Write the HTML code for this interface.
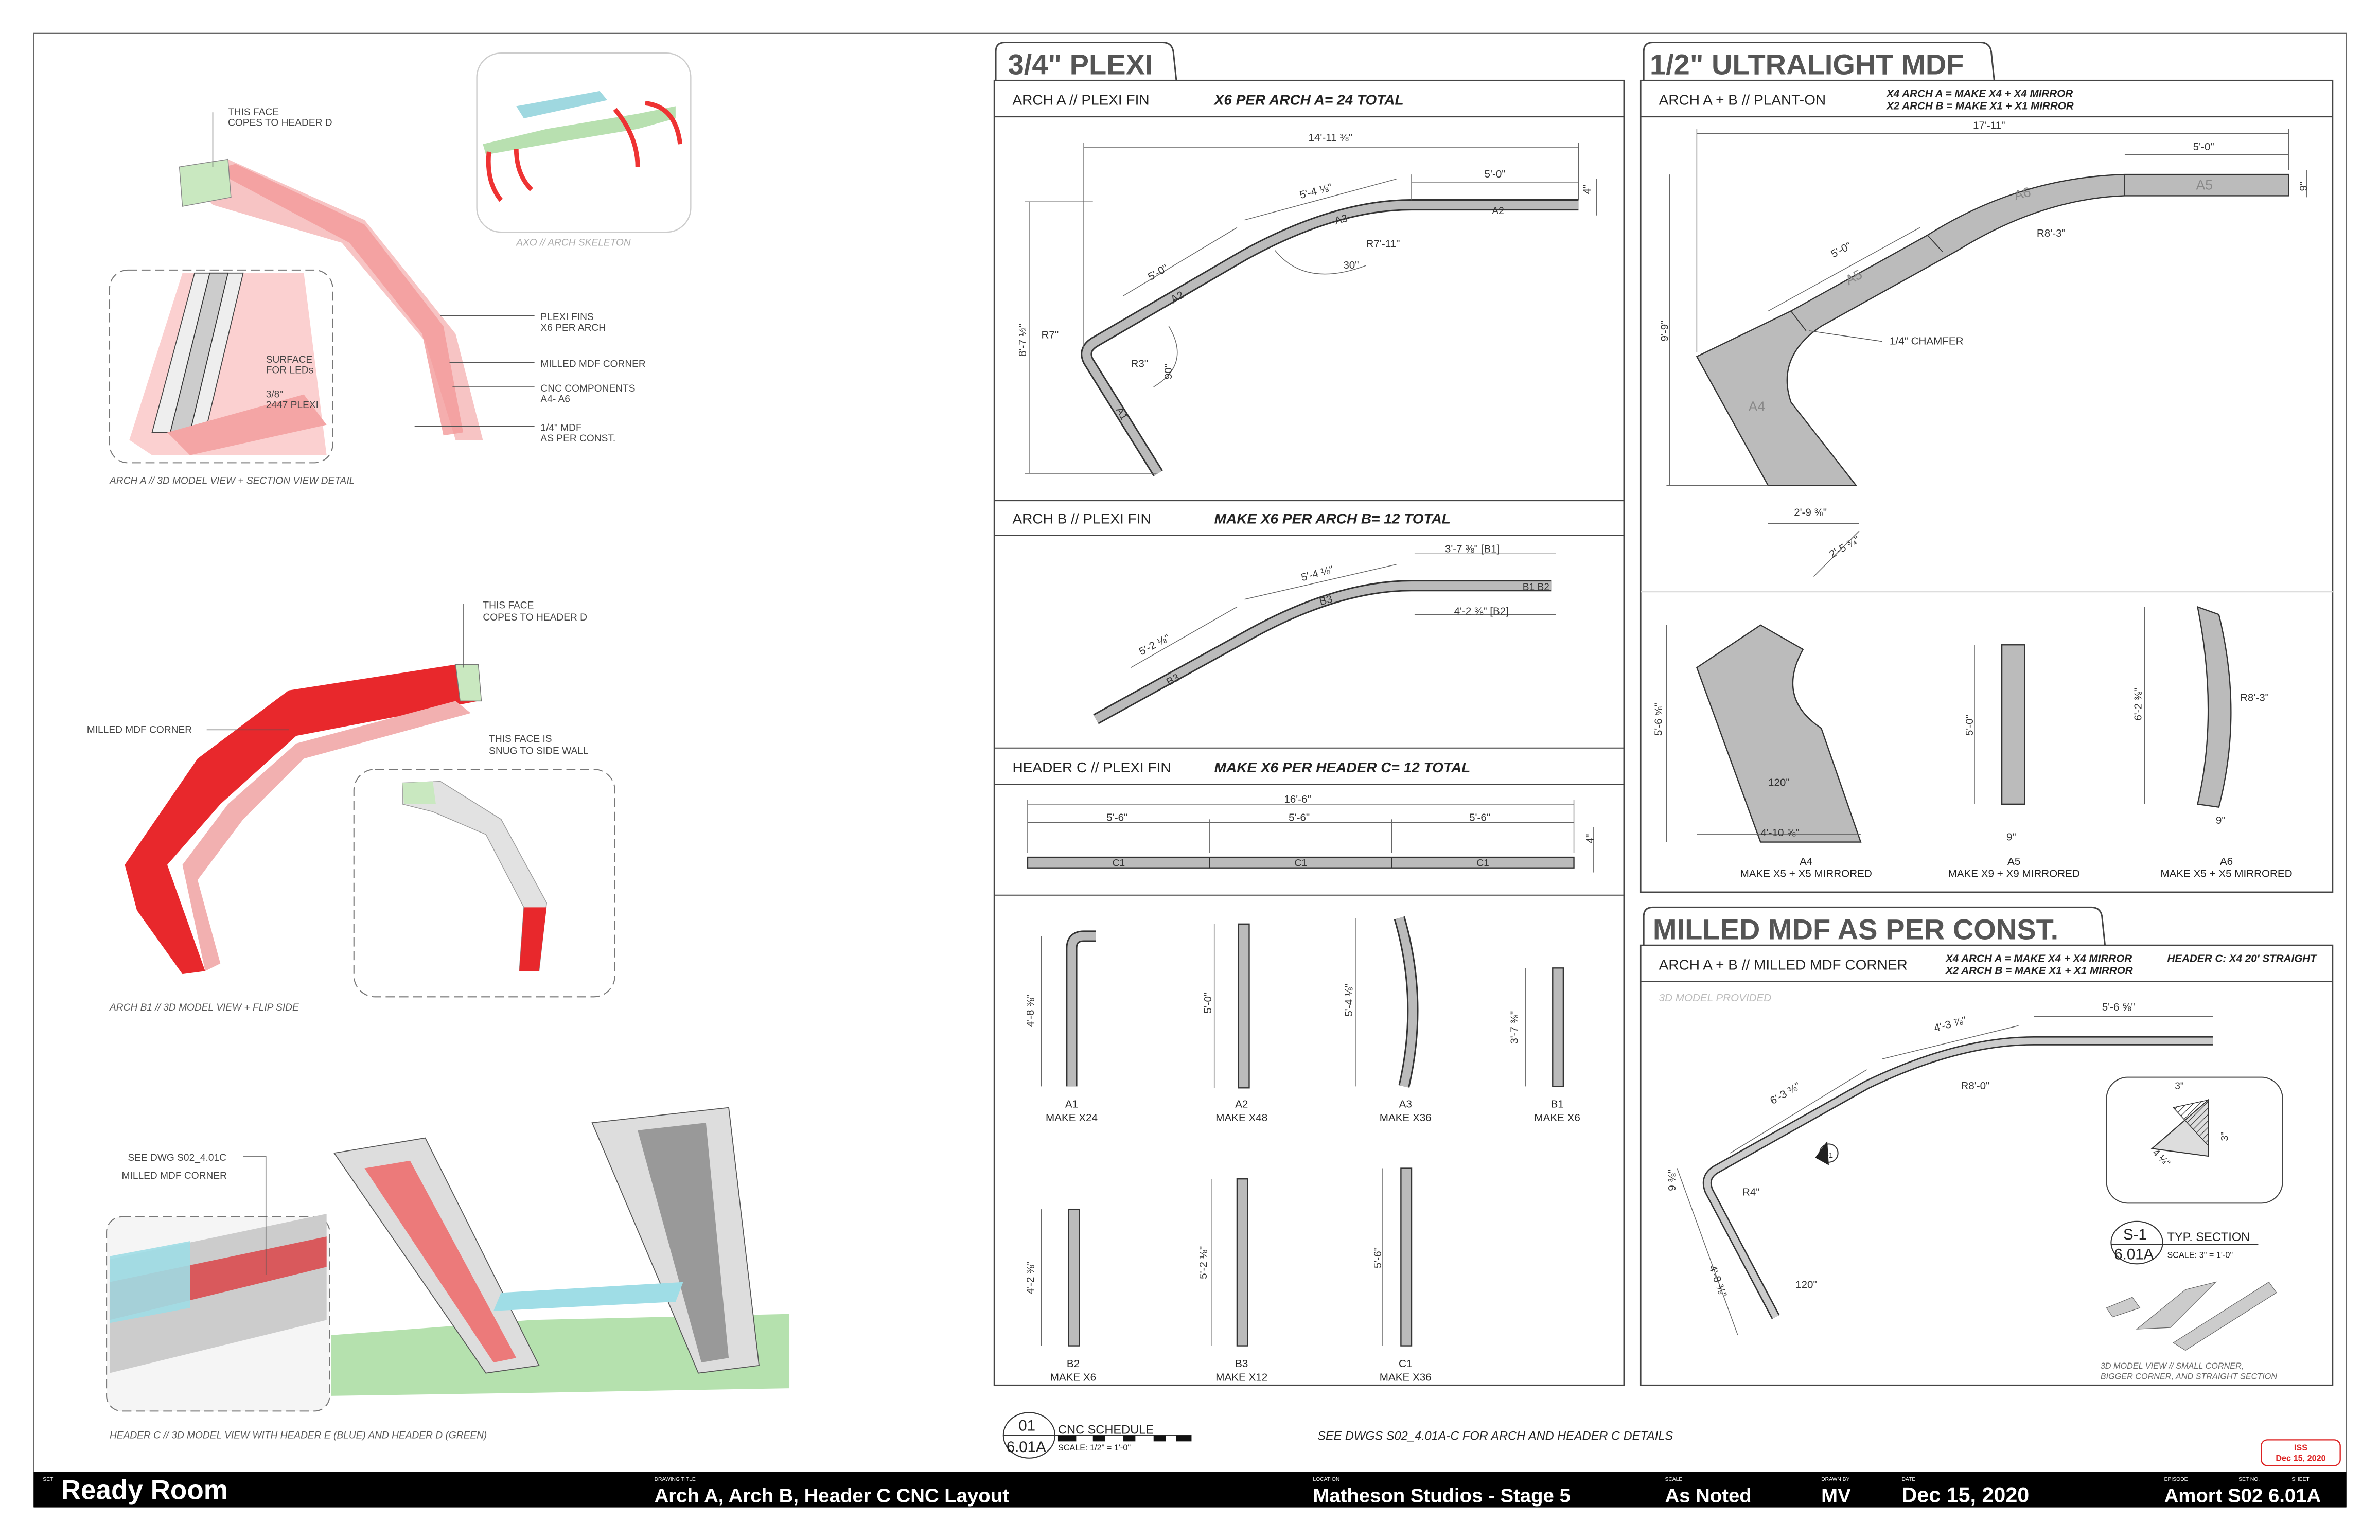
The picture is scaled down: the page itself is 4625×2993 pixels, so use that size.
<!DOCTYPE html>
<html><head><meta charset="utf-8"><style>
html,body{margin:0;padding:0;background:#fff;}
svg{display:block;}
text{font-family:"Liberation Sans",sans-serif;}
</style></head><body>
<svg width="4625" height="2993" viewBox="0 0 1568 1015" xmlns="http://www.w3.org/2000/svg">
<rect width="1568" height="1015" fill="#fff"/>
<rect x="22" y="22" width="1524" height="971" fill="none" stroke="#666" stroke-width="0.8"/>

<!-- ============ LEFT COLUMN 3D VIEWS ============ -->
<!-- Arch A top -->
<polygon points="118,110 150,105 240,145 300,220 318,290 300,290 280,225 225,160 140,135" fill="#f7c4c4"/>
<polygon points="140,112 155,108 240,148 292,215 305,285 292,287 278,220 230,160" fill="#f29a9a" opacity="0.8"/>
<polygon points="118,110 150,105 152,130 120,136" fill="#c9e8c0" stroke="#888" stroke-width="0.5"/>
<line x1="140" y1="74" x2="140" y2="110" stroke="#555" stroke-width="0.5"/>
<text x="150" y="76" font-size="6.5" fill="#444">THIS FACE</text>
<text x="150" y="83" font-size="6.5" fill="#444">COPES TO HEADER D</text>
<rect x="72" y="178" width="147" height="127" rx="12" fill="none" stroke="#777" stroke-width="0.7" stroke-dasharray="6,3"/>
<polygon points="85,290 120,180 200,180 215,300 100,300" fill="#fbd0d0"/>
<polygon points="100,285 128,180 160,180 135,285" fill="#eee" stroke="#444" stroke-width="0.6"/>
<polygon points="112,285 138,180 150,180 125,285" fill="#ccc" stroke="#333" stroke-width="0.6"/>
<polygon points="110,285 200,260 215,280 125,300" fill="#f4a5a5"/>
<text x="175" y="239" font-size="6.5" fill="#444">SURFACE</text>
<text x="175" y="246" font-size="6.5" fill="#444">FOR LEDs</text>
<text x="175" y="262" font-size="6.5" fill="#444">3/8"</text>
<text x="175" y="269" font-size="6.5" fill="#444">2447 PLEXI</text>
<g font-size="6.5" fill="#444">
<text x="356" y="211">PLEXI FINS</text><text x="356" y="218">X6 PER ARCH</text>
<text x="356" y="242">MILLED MDF CORNER</text>
<text x="356" y="258">CNC COMPONENTS</text><text x="356" y="265">A4- A6</text>
<text x="356" y="284">1/4" MDF</text><text x="356" y="291">AS PER CONST.</text>
</g>
<g stroke="#555" stroke-width="0.5">
<line x1="290" y1="208" x2="352" y2="208"/><line x1="296" y1="239" x2="352" y2="239"/>
<line x1="298" y1="255" x2="352" y2="255"/><line x1="273" y1="281" x2="352" y2="281"/>
</g>
<text x="72" y="319" font-size="6.5" font-style="italic" fill="#555">ARCH A // 3D MODEL VIEW + SECTION VIEW DETAIL</text>
<!-- axo -->
<rect x="314" y="35" width="141" height="118" rx="16" fill="none" stroke="#ccc" stroke-width="0.8"/>
<polygon points="318,95 360,85 420,75 445,70 445,78 420,85 360,95 320,102" fill="#b8e0b0"/>
<polygon points="340,70 395,60 400,66 345,78" fill="#9fd8e0"/>
<g stroke="#e33" stroke-width="3" fill="none">
<path d="M322,100 Q320,120 330,132"/><path d="M340,98 Q340,115 350,125"/>
<path d="M425,68 Q445,70 448,95"/><path d="M405,72 Q420,90 420,110"/>
</g>
<text x="340" y="162" font-size="6.5" font-style="italic" fill="#aaa">AXO // ARCH SKELETON</text>

<!-- Arch B1 -->
<polygon points="82,570 130,500 190,455 300,438 315,462 195,485 145,530 110,570 135,640 120,642 90,600" fill="#e8282c"/>
<polygon points="120,570 150,530 195,490 300,462 310,470 200,500 160,540 130,580 145,635 135,640" fill="#f2b0b0"/>
<polygon points="300,438 315,438 317,462 303,462" fill="#c9e8c0" stroke="#777" stroke-width="0.5"/>
<line x1="305" y1="398" x2="305" y2="440" stroke="#555" stroke-width="0.5"/>
<text x="318" y="401" font-size="6.5" fill="#444">THIS FACE</text>
<text x="318" y="409" font-size="6.5" fill="#444">COPES TO HEADER D</text>
<text x="57" y="483" font-size="6.5" fill="#444">MILLED MDF CORNER</text>
<line x1="136" y1="481" x2="190" y2="481" stroke="#555" stroke-width="0.5"/>
<rect x="233" y="507" width="172" height="150" rx="14" fill="none" stroke="#777" stroke-width="0.7" stroke-dasharray="6,3"/>
<polygon points="265,516 290,515 330,540 360,595 355,640 342,640 345,598 320,550 285,535 265,530" fill="#e2e2e2" stroke="#999" stroke-width="0.5"/>
<polygon points="345,598 360,598 355,640 342,640" fill="#e8282c"/>
<polygon points="265,516 285,515 287,530 266,530" fill="#c9e8c0"/>
<text x="322" y="489" font-size="6.5" fill="#444">THIS FACE IS</text>
<text x="322" y="497" font-size="6.5" fill="#444">SNUG TO SIDE WALL</text>
<text x="72" y="666" font-size="6.5" font-style="italic" fill="#555">ARCH B1 // 3D MODEL VIEW + FLIP SIDE</text>

<!-- Header C -->
<polygon points="218,880 350,870 520,866 520,915 350,918 218,920" fill="#a8dca0" opacity="0.85"/>
<polygon points="220,760 280,750 355,900 320,905" fill="#ddd" stroke="#555" stroke-width="0.6"/>
<polygon points="240,770 270,765 340,895 325,898" fill="#ec7a7a"/>
<polygon points="390,740 480,730 500,900 460,905" fill="#ddd" stroke="#555" stroke-width="0.6"/>
<polygon points="420,745 465,740 480,895 462,898" fill="#999"/>
<polygon points="330,852 450,845 445,858 325,864" fill="#9fdde6"/>
<rect x="70" y="802" width="147" height="128" rx="10" fill="#f5f5f5" stroke="#777" stroke-width="0.7" stroke-dasharray="6,3"/>
<polygon points="72,830 215,800 215,870 72,905" fill="#ccc"/>
<polygon points="72,845 215,815 215,835 72,870" fill="#d9595c"/>
<polygon points="72,828 125,818 125,862 72,872" fill="#9fdde6" opacity="0.9"/>
<text x="84" y="765" font-size="6.5" fill="#444">SEE DWG S02_4.01C</text>
<text x="80" y="777" font-size="6.5" fill="#444">MILLED MDF CORNER</text>
<polyline points="160,762 175,762 175,840" fill="none" stroke="#555" stroke-width="0.5"/>
<text x="72" y="948" font-size="6.5" font-style="italic" fill="#555">HEADER C // 3D MODEL VIEW WITH HEADER E (BLUE) AND HEADER D (GREEN)</text>

<!-- ============ MIDDLE PANEL ============ -->
<path d="M656,53 L656,34 Q656,28 662,28 L766,28 Q772,28 773,34 L775,53" fill="none" stroke="#444" stroke-width="1"/>
<text x="664" y="49" font-size="19" font-weight="bold" fill="#555">3/4" PLEXI</text>
<rect x="655" y="53" width="415" height="860" fill="none" stroke="#444" stroke-width="0.9"/>
<line x1="655" y1="77" x2="1070" y2="77" stroke="#444" stroke-width="0.7"/>
<text x="667" y="69" font-size="9.5" fill="#222">ARCH A // PLEXI FIN</text>
<text x="800" y="69" font-size="9.5" font-weight="bold" font-style="italic" fill="#222">X6 PER ARCH A= 24 TOTAL</text>
<line x1="655" y1="330" x2="1070" y2="330" stroke="#444" stroke-width="0.7"/>
<line x1="655" y1="353" x2="1070" y2="353" stroke="#444" stroke-width="0.7"/>
<text x="667" y="345" font-size="9.5" fill="#222">ARCH B // PLEXI FIN</text>
<text x="800" y="345" font-size="9.5" font-weight="bold" font-style="italic" fill="#222">MAKE X6 PER ARCH B= 12 TOTAL</text>
<line x1="655" y1="493" x2="1070" y2="493" stroke="#444" stroke-width="0.7"/>
<line x1="655" y1="517" x2="1070" y2="517" stroke="#444" stroke-width="0.7"/>
<text x="667" y="509" font-size="9.5" fill="#222">HEADER C // PLEXI FIN</text>
<text x="800" y="509" font-size="9.5" font-weight="bold" font-style="italic" fill="#222">MAKE X6 PER HEADER C= 12 TOTAL</text>
<line x1="655" y1="590" x2="1070" y2="590" stroke="#444" stroke-width="0.7"/>

<g fill="none" stroke-linejoin="round">
<!-- arch A -->
<path d="M763,312 L717,238 Q713,230 722,225 L820,168 Q880,135 930,135 L1040,135" stroke="#333" stroke-width="7.5"/>
<path d="M763,312 L717,238 Q713,230 722,225 L820,168 Q880,135 930,135 L1040,135" stroke="#bbb" stroke-width="5.5"/>
<!-- arch B -->
<path d="M722,474 L820,420 Q880,386 930,386 L1022,386" stroke="#333" stroke-width="7.5"/>
<path d="M722,474 L820,420 Q880,386 930,386 L1022,386" stroke="#bbb" stroke-width="5.5"/>
</g>
<rect x="677" y="565" width="360" height="7" fill="#bbb" stroke="#333" stroke-width="0.8"/>
<g stroke="#333" stroke-width="0.6"><line x1="797" y1="565" x2="797" y2="572"/><line x1="917" y1="565" x2="917" y2="572"/></g>
<g font-size="6.5" fill="#333" text-anchor="middle">
<text x="737" y="571">C1</text><text x="857" y="571">C1</text><text x="977" y="571">C1</text>
<text x="987" y="141">A2</text><text x="1012" y="389">B1 B2</text>
</g>
<!-- dimension lines -->
<g stroke="#666" stroke-width="0.5" fill="none">
<line x1="714" y1="97" x2="1040" y2="97"/><line x1="714" y1="94" x2="714" y2="230"/><line x1="1040" y1="94" x2="1040" y2="132"/>
<line x1="930" y1="120" x2="1040" y2="120"/><line x1="930" y1="115" x2="930" y2="132"/>
<line x1="678" y1="133" x2="678" y2="312"/><line x1="675" y1="133" x2="720" y2="133"/><line x1="675" y1="312" x2="762" y2="312"/>
<line x1="1052" y1="118" x2="1052" y2="142"/>
<line x1="740" y1="195" x2="815" y2="150"/><line x1="820" y1="145" x2="920" y2="118"/>
<path d="M840,165 Q860,190 900,175"/><path d="M760,255 Q785,240 770,215"/>
<line x1="932" y1="365" x2="1025" y2="365"/><line x1="932" y1="405" x2="1025" y2="405"/>
<line x1="745" y1="440" x2="815" y2="400"/><line x1="820" y1="395" x2="920" y2="372"/>
<line x1="677" y1="530" x2="1037" y2="530"/><line x1="677" y1="542" x2="1037" y2="542"/>
<line x1="677" y1="527" x2="677" y2="562"/><line x1="797" y1="540" x2="797" y2="562"/><line x1="917" y1="540" x2="917" y2="562"/><line x1="1037" y1="527" x2="1037" y2="562"/>
<line x1="1050" y1="545" x2="1050" y2="575"/>
</g>
<g font-size="7" fill="#333">
<text x="862" y="93">14'-11 ⅜"</text><text x="978" y="117">5'-0"</text><text x="1048" y="128" transform="rotate(-90 1048 128)">4"</text>
<text x="857" y="131" transform="rotate(-15 857 131)">5'-4 ⅛"</text><text x="758" y="185" transform="rotate(-30 758 185)">5'-0"</text>
<text x="900" y="163">R7'-11"</text><text x="885" y="177">30"</text><text x="686" y="223">R7"</text><text x="745" y="242">R3"</text>
<text x="676" y="235" transform="rotate(-90 676 235)">8'-7 ½"</text><text x="772" y="250" transform="rotate(-90 772 250)">90"</text>
<text x="773" y="200" transform="rotate(-30 773 200)">A2</text><text x="880" y="148" transform="rotate(-15 880 148)">A3</text><text x="735" y="270" transform="rotate(60 735 270)">A1</text>
<text x="952" y="364">3'-7 ⅜" [B1]</text><text x="958" y="405">4'-2 ⅜" [B2]</text>
<text x="858" y="383" transform="rotate(-15 858 383)">5'-4 ⅛"</text><text x="752" y="432" transform="rotate(-28 752 432)">5'-2 ⅛"</text>
<text x="870" y="399" transform="rotate(-15 870 399)">B3</text><text x="770" y="452" transform="rotate(-28 770 452)">B3</text>
<text x="846" y="529">16'-6"</text><text x="729" y="541">5'-6"</text><text x="849" y="541">5'-6"</text><text x="968" y="541">5'-6"</text>
<text x="1050" y="556" transform="rotate(-90 1050 556)">4"</text>
</g>
<!-- schedule pieces -->
<path d="M706,716 L706,625 Q706,617 714,617 L722,617" fill="none" stroke="#333" stroke-width="7.5"/>
<path d="M706,716 L706,625 Q706,617 714,617 L722,617" fill="none" stroke="#bbb" stroke-width="5.5"/>
<rect x="816" y="609" width="7" height="108" fill="#bbb" stroke="#333" stroke-width="0.8"/>
<path d="M922,605 Q938,660 925,716" fill="none" stroke="#333" stroke-width="7.5"/>
<path d="M922,605 Q938,660 925,716" fill="none" stroke="#bbb" stroke-width="5.5"/>
<rect x="1023" y="638" width="7" height="78" fill="#bbb" stroke="#333" stroke-width="0.8"/>
<rect x="704" y="797" width="7" height="90" fill="#bbb" stroke="#333" stroke-width="0.8"/>
<rect x="815" y="777" width="7" height="110" fill="#bbb" stroke="#333" stroke-width="0.8"/>
<rect x="923" y="770" width="7" height="117" fill="#bbb" stroke="#333" stroke-width="0.8"/>
<g stroke="#666" stroke-width="0.5">
<line x1="686" y1="617" x2="686" y2="716"/><line x1="800" y1="609" x2="800" y2="717"/><line x1="893" y1="605" x2="893" y2="716"/><line x1="1005" y1="638" x2="1005" y2="716"/>
<line x1="686" y1="797" x2="686" y2="887"/><line x1="798" y1="777" x2="798" y2="887"/><line x1="911" y1="770" x2="911" y2="887"/>
</g>
<g font-size="7" fill="#333">
<text x="681" y="677" transform="rotate(-90 681 677)">4'-8 ⅜"</text><text x="798" y="668" transform="rotate(-90 798 668)">5'-0"</text>
<text x="891" y="670" transform="rotate(-90 891 670)">5'-4 ⅛"</text><text x="1000" y="688" transform="rotate(-90 1000 688)">3'-7 ⅜"</text>
<text x="681" y="853" transform="rotate(-90 681 853)">4'-2 ⅜"</text><text x="795" y="843" transform="rotate(-90 795 843)">5'-2 ⅛"</text>
<text x="910" y="836" transform="rotate(-90 910 836)">5'-6"</text>
</g>
<g font-size="7" fill="#222" text-anchor="middle">
<text x="706" y="730">A1</text><text x="706" y="739">MAKE X24</text>
<text x="818" y="730">A2</text><text x="818" y="739">MAKE X48</text>
<text x="926" y="730">A3</text><text x="926" y="739">MAKE X36</text>
<text x="1026" y="730">B1</text><text x="1026" y="739">MAKE X6</text>
<text x="707" y="901">B2</text><text x="707" y="910">MAKE X6</text>
<text x="818" y="901">B3</text><text x="818" y="910">MAKE X12</text>
<text x="926" y="901">C1</text><text x="926" y="910">MAKE X36</text>
</g>
<!-- schedule tag -->
<ellipse cx="678" cy="946" rx="17" ry="15" fill="none" stroke="#333" stroke-width="0.7"/>
<line x1="661" y1="946" x2="785" y2="946" stroke="#333" stroke-width="0.7"/>
<text x="671" y="943" font-size="10" fill="#222">01</text>
<text x="663" y="957" font-size="10" fill="#222">6.01A</text>
<text x="697" y="945" font-size="8" fill="#222">CNC SCHEDULE</text>
<text x="697" y="956" font-size="5.5" fill="#222">SCALE: 1/2" = 1'-0"</text>
<g fill="#111"><rect x="697" y="946" width="12" height="4"/><rect x="720" y="946" width="8" height="4"/><rect x="740" y="946" width="8" height="4"/><rect x="760" y="946" width="8" height="4"/><rect x="775" y="946" width="10" height="4"/></g>
<text x="868" y="949" font-size="8" font-style="italic" fill="#222">SEE DWGS S02_4.01A-C FOR ARCH AND HEADER C DETAILS</text>

<!-- ============ RIGHT PANEL TOP ============ -->
<path d="M1083,53 L1083,34 Q1083,28 1089,28 L1305,28 Q1311,28 1312,34 L1314,53" fill="none" stroke="#444" stroke-width="1"/>
<text x="1087" y="49" font-size="19" font-weight="bold" fill="#555">1/2" ULTRALIGHT MDF</text>
<rect x="1081" y="53" width="456" height="535" fill="none" stroke="#444" stroke-width="0.9"/>
<line x1="1081" y1="77" x2="1537" y2="77" stroke="#444" stroke-width="0.7"/>
<text x="1093" y="69" font-size="9.5" fill="#222">ARCH A + B // PLANT-ON</text>
<text x="1243" y="64" font-size="7" font-weight="bold" font-style="italic" fill="#222">X4 ARCH A = MAKE X4 + X4 MIRROR</text>
<text x="1243" y="72" font-size="7" font-weight="bold" font-style="italic" fill="#222">X2 ARCH B = MAKE X1 + X1 MIRROR</text>
<line x1="1081" y1="390" x2="1537" y2="390" stroke="#ddd" stroke-width="0.8"/>
<path d="M1118,235 L1180,205 L1270,155 Q1330,117 1400,115 L1508,115 L1508,129 L1400,129 Q1345,131 1290,165 L1200,215 Q1170,235 1180,265 L1223,320 L1165,320 L1118,235 Z" fill="#bbb" stroke="#333" stroke-width="0.8"/>
<g stroke="#333" stroke-width="0.6"><line x1="1180" y1="205" x2="1190" y2="218"/><line x1="1270" y1="155" x2="1280" y2="166"/><line x1="1400" y1="115" x2="1400" y2="129"/></g>
<g stroke="#666" stroke-width="0.5" fill="none">
<line x1="1118" y1="88" x2="1508" y2="88"/><line x1="1118" y1="85" x2="1118" y2="232"/><line x1="1508" y1="85" x2="1508" y2="112"/>
<line x1="1400" y1="102" x2="1508" y2="102"/><line x1="1520" y1="112" x2="1520" y2="130"/>
<line x1="1100" y1="115" x2="1100" y2="320"/><line x1="1098" y1="320" x2="1165" y2="320"/>
<line x1="1165" y1="345" x2="1225" y2="345"/><line x1="1195" y1="380" x2="1225" y2="350"/>
<line x1="1165" y1="205" x2="1265" y2="150"/>
</g>
<g font-size="7" fill="#333">
<text x="1300" y="85">17'-11"</text><text x="1445" y="99">5'-0"</text><text x="1520" y="126" transform="rotate(-90 1520 126)">9"</text>
<text x="1099" y="225" transform="rotate(-90 1099 225)">9'-9"</text>
<text x="1208" y="170" transform="rotate(-28 1208 170)">5'-0"</text>
<text x="1342" y="156">R8'-3"</text><text x="1245" y="227">1/4" CHAMFER</text>
<text x="1182" y="340">2'-9 ⅜"</text><text x="1207" y="368" transform="rotate(-30 1207 368)">2'-5 ¾"</text>
</g>
<g font-size="9" fill="#888"><text x="1152" y="271">A4</text><text x="1218" y="188" transform="rotate(-28 1218 188)">A5</text><text x="1328" y="132" transform="rotate(-15 1328 132)">A6</text><text x="1447" y="125">A5</text></g>
<line x1="1240" y1="225" x2="1192" y2="218" stroke="#555" stroke-width="0.5"/>
<!-- parts -->
<path d="M1118,440 L1160,412 L1188,428 Q1170,460 1200,480 L1226,555 L1160,555 Z" fill="#bbb" stroke="#333" stroke-width="0.8"/>
<rect x="1319" y="425" width="15" height="105" fill="#bbb" stroke="#333" stroke-width="0.8"/>
<path d="M1448,400 L1462,405 Q1478,470 1462,532 L1448,530 Q1462,470 1448,400 Z" fill="#bbb" stroke="#333" stroke-width="0.8"/>
<g stroke="#666" stroke-width="0.5"><line x1="1098" y1="412" x2="1098" y2="555"/><line x1="1301" y1="425" x2="1301" y2="530"/><line x1="1413" y1="400" x2="1413" y2="530"/><line x1="1118" y1="550" x2="1226" y2="550"/></g>
<g font-size="7" fill="#333">
<text x="1095" y="485" transform="rotate(-90 1095 485)">5'-6 ⅝"</text><text x="1300" y="485" transform="rotate(-90 1300 485)">5'-0"</text>
<text x="1411" y="475" transform="rotate(-90 1411 475)">6'-2 ⅜"</text><text x="1476" y="462">R8'-3"</text>
<text x="1160" y="551">4'-10 ⅝"</text><text x="1165" y="518">120"</text><text x="1322" y="554">9"</text><text x="1460" y="543">9"</text>
</g>
<g font-size="7" fill="#222" text-anchor="middle">
<text x="1190" y="570">A4</text><text x="1190" y="578">MAKE X5 + X5 MIRRORED</text>
<text x="1327" y="570">A5</text><text x="1327" y="578">MAKE X9 + X9 MIRRORED</text>
<text x="1467" y="570">A6</text><text x="1467" y="578">MAKE X5 + X5 MIRRORED</text>
</g>

<!-- ============ RIGHT PANEL BOTTOM ============ -->
<path d="M1083,623 L1083,604 Q1083,598 1089,598 L1378,598 Q1384,598 1385,604 L1387,623" fill="none" stroke="#444" stroke-width="1"/>
<text x="1089" y="619" font-size="19" font-weight="bold" fill="#555">MILLED MDF AS PER CONST.</text>
<rect x="1081" y="623" width="456" height="290" fill="none" stroke="#444" stroke-width="0.9"/>
<line x1="1081" y1="647" x2="1537" y2="647" stroke="#444" stroke-width="0.7"/>
<text x="1093" y="639" font-size="9.5" fill="#222">ARCH A  + B // MILLED MDF CORNER</text>
<text x="1282" y="634" font-size="7" font-weight="bold" font-style="italic" fill="#222">X4 ARCH A = MAKE X4 + X4 MIRROR</text>
<text x="1282" y="642" font-size="7" font-weight="bold" font-style="italic" fill="#222">X2 ARCH B = MAKE X1 + X1 MIRROR</text>
<text x="1428" y="634" font-size="7" font-weight="bold" font-style="italic" fill="#222">HEADER C: X4 20' STRAIGHT</text>
<text x="1093" y="660" font-size="7" font-style="italic" fill="#bbb">3D MODEL PROVIDED</text>
<path d="M1170,868 L1126,785 Q1122,775 1132,770 L1230,715 Q1290,686 1340,686 L1458,686" fill="none" stroke="#333" stroke-width="6"/>
<path d="M1170,868 L1126,785 Q1122,775 1132,770 L1230,715 Q1290,686 1340,686 L1458,686" fill="none" stroke="#ccc" stroke-width="4.2"/>
<g stroke="#666" stroke-width="0.5" fill="none"><line x1="1340" y1="670" x2="1458" y2="670"/><line x1="1140" y1="760" x2="1230" y2="705"/><line x1="1240" y1="698" x2="1330" y2="676"/><line x1="1105" y1="770" x2="1145" y2="880"/></g>
<g font-size="7" fill="#333">
<text x="1385" y="666">5'-6 ⅝"</text><text x="1275" y="680" transform="rotate(-15 1275 680)">4'-3 ⅞"</text>
<text x="1168" y="728" transform="rotate(-30 1168 728)">6'-3 ⅜"</text><text x="1292" y="718">R8'-0"</text>
<text x="1148" y="788">R4"</text><text x="1104" y="785" transform="rotate(-90 1104 785)">9 ⅜"</text>
<text x="1183" y="849">120"</text><text x="1126" y="835" transform="rotate(70 1126 835)">4'-8 ⅜"</text>
</g>
<circle cx="1205" cy="760" r="6" fill="#fff" stroke="#333" stroke-width="0.7"/>
<polygon points="1196,763 1205,768 1204,752" fill="#222"/>
<text x="1200" y="763" font-size="5" fill="#222">S-1</text>
<rect x="1388" y="710" width="116" height="83" rx="14" fill="none" stroke="#444" stroke-width="0.7"/>
<polygon points="1418,757 1455,725 1455,762" fill="#ddd" stroke="#333" stroke-width="0.7"/>
<polygon points="1432,730 1455,725 1455,755" fill="url(#h)" stroke="#333" stroke-width="0.5"/>
<defs><pattern id="h" width="3" height="3" patternUnits="userSpaceOnUse" patternTransform="rotate(45)"><line x1="0" y1="0" x2="0" y2="3" stroke="#333" stroke-width="0.8"/></pattern></defs>
<text x="1433" y="718" font-size="6.5" fill="#333">3"</text><text x="1468" y="752" font-size="6.5" fill="#333" transform="rotate(-90 1468 752)">3"</text>
<text x="1418" y="760" font-size="6.5" fill="#333" transform="rotate(45 1418 760)">4 ¼"</text>
<ellipse cx="1408" cy="819" rx="17" ry="14" fill="none" stroke="#333" stroke-width="0.7"/>
<line x1="1391" y1="820" x2="1488" y2="820" stroke="#333" stroke-width="0.7"/>
<text x="1399" y="817" font-size="10" fill="#222">S-1</text>
<text x="1393" y="830" font-size="10" fill="#222">6.01A</text>
<text x="1428" y="818" font-size="8" fill="#222">TYP. SECTION</text>
<text x="1428" y="829" font-size="5.5" fill="#222">SCALE: 3" = 1'-0"</text>
<polygon points="1388,862 1405,855 1410,862 1392,868" fill="#ccc" stroke="#666" stroke-width="0.4"/>
<polygon points="1408,876 1440,850 1460,845 1430,875" fill="#ccc" stroke="#666" stroke-width="0.4"/>
<polygon points="1432,885 1495,845 1500,852 1440,890" fill="#ccc" stroke="#666" stroke-width="0.4"/>
<text x="1384" y="902" font-size="5.5" font-style="italic" fill="#666">3D MODEL VIEW // SMALL CORNER,</text>
<text x="1384" y="909" font-size="5.5" font-style="italic" fill="#666">BIGGER CORNER, AND STRAIGHT SECTION</text>

<!-- ISS stamp -->
<rect x="1490" y="949" width="52" height="17" rx="4" fill="none" stroke="#d22" stroke-width="0.8"/>
<text x="1516" y="956" font-size="5.5" font-weight="bold" fill="#d22" text-anchor="middle">ISS</text>
<text x="1516" y="963" font-size="5.5" font-weight="bold" fill="#d22" text-anchor="middle">Dec 15, 2020</text>

<!-- ============ TITLE BAR ============ -->
<rect x="22" y="970" width="1524" height="23.5" fill="#000"/>
<g fill="#fff" font-size="3.5"><text x="28" y="976">SET</text><text x="431" y="976">DRAWING TITLE</text><text x="865" y="976">LOCATION</text><text x="1097" y="976">SCALE</text><text x="1200" y="976">DRAWN BY</text><text x="1253" y="976">DATE</text><text x="1426" y="976">EPISODE</text><text x="1475" y="976">SET NO.</text><text x="1510" y="976">SHEET</text></g>
<g fill="#fff" font-weight="bold">
<text x="40" y="988" font-size="18">Ready Room</text>
<text x="431" y="990" font-size="13">Arch A, Arch B, Header C CNC Layout</text>
<text x="865" y="990" font-size="13">Matheson Studios - Stage 5</text>
<text x="1097" y="990" font-size="13">As Noted</text>
<text x="1200" y="990" font-size="13">MV</text>
<text x="1253" y="990" font-size="14">Dec 15, 2020</text>
<text x="1426" y="990" font-size="13">Amort  S02  6.01A</text>
</g>
</svg>
</body></html>
